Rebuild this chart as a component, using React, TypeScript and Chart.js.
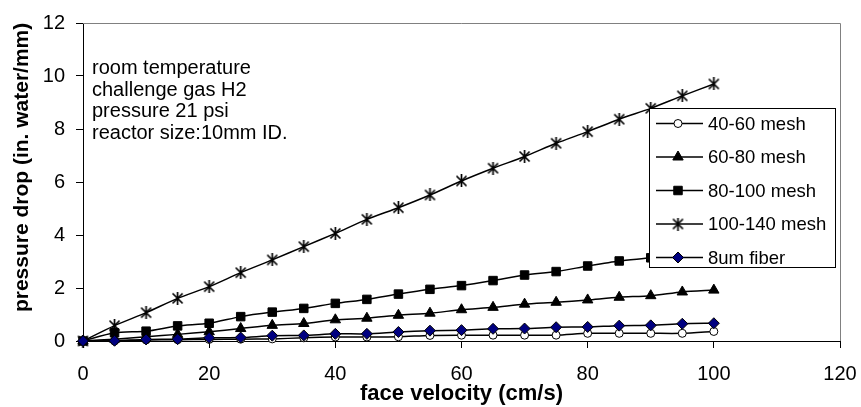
import React, { useEffect, useRef } from 'react';
import { Chart, registerables } from 'chart.js';

Chart.register(...registerables);

const velocities = [0, 5, 10, 15, 20, 25, 30, 35, 40, 45, 50, 55, 60, 65, 70, 75, 80, 85, 90, 95, 100];
const mesh40to60 = [0, 0.0, 0.04, 0.05, 0.06, 0.07, 0.08, 0.12, 0.15, 0.15, 0.16, 0.21, 0.22, 0.22, 0.22, 0.22, 0.29, 0.29, 0.29, 0.29, 0.36];
const mesh60to80 = [0, 0.07, 0.16, 0.25, 0.35, 0.47, 0.59, 0.66, 0.8, 0.86, 0.97, 1.05, 1.18, 1.27, 1.39, 1.46, 1.55, 1.65, 1.71, 1.85, 1.92];
const mesh80to100 = [0, 0.31, 0.37, 0.57, 0.67, 0.92, 1.09, 1.23, 1.42, 1.57, 1.77, 1.95, 2.09, 2.28, 2.49, 2.62, 2.83, 3.02, 3.14, 3.3, 3.45];
const mesh100to140 = [0, 0.58, 1.07, 1.61, 2.05, 2.58, 3.06, 3.56, 4.06, 4.59, 5.03, 5.51, 6.04, 6.52, 6.96, 7.46, 7.9, 8.37, 8.78, 9.25, 9.7];
const fiber8um = [0, 0.01, 0.06, 0.07, 0.12, 0.13, 0.2, 0.21, 0.27, 0.27, 0.34, 0.39, 0.41, 0.46, 0.47, 0.52, 0.53, 0.58, 0.59, 0.65, 0.67];

const seriesNames = ['40-60 mesh', '60-80 mesh', '80-100 mesh', '100-140 mesh', '8um fiber'];
const seriesValues = [mesh40to60, mesh60to80, mesh80to100, mesh100to140, fiber8um];
const seriesMarkers = ['circle', 'triangle', 'rect', 'star', 'rectRot'];

const notes = ['room temperature', 'challenge gas H2', 'pressure 21 psi', 'reactor size:10mm ID.'];

const xTitle = 'face velocity (cm/s)';
const yTitle = 'pressure drop (in. water/mm)';

const FONT = '"Liberation Sans", Arial, Helvetica, sans-serif';
const NAVY = '#000080';

function makeStar(): HTMLCanvasElement {
  const c = document.createElement('canvas');
  c.width = 13;
  c.height = 13;
  const g = c.getContext('2d')!;
  g.strokeStyle = '#000';
  g.lineWidth = 1.7;
  g.beginPath();
  g.moveTo(1.5, 1.5); g.lineTo(11.5, 11.5);
  g.moveTo(11.5, 1.5); g.lineTo(1.5, 11.5);
  g.moveTo(6.5, 0); g.lineTo(6.5, 13);
  g.stroke();
  return c;
}

function drawMarker(ctx: CanvasRenderingContext2D, style: string, x: number, y: number, star: HTMLCanvasElement) {
  ctx.save();
  ctx.lineWidth = 1;
  ctx.strokeStyle = '#000';
  ctx.beginPath();
  if (style === 'circle') {
    ctx.fillStyle = '#fff';
    ctx.arc(x, y, 4, 0, Math.PI * 2);
    ctx.fill();
    ctx.stroke();
  } else if (style === 'triangle') {
    const r = 6;
    ctx.fillStyle = '#000';
    ctx.moveTo(x, y - r);
    ctx.lineTo(x + 0.866 * r, y + 0.5 * r);
    ctx.lineTo(x - 0.866 * r, y + 0.5 * r);
    ctx.closePath();
    ctx.fill();
    ctx.stroke();
  } else if (style === 'rect') {
    const s = 6 * Math.SQRT1_2;
    ctx.fillStyle = '#000';
    ctx.rect(x - s, y - s, 2 * s, 2 * s);
    ctx.fill();
    ctx.stroke();
  } else if (style === 'rectRot') {
    const r = 5.5;
    ctx.fillStyle = NAVY;
    ctx.moveTo(x - r, y);
    ctx.lineTo(x, y - r);
    ctx.lineTo(x + r, y);
    ctx.lineTo(x, y + r);
    ctx.closePath();
    ctx.fill();
    ctx.stroke();
  } else if (style === 'star') {
    ctx.drawImage(star, x - star.width / 2, y - star.height / 2);
  }
  ctx.restore();
}

export default function App() {
  const ref = useRef<HTMLCanvasElement | null>(null);

  useEffect(() => {
    const canvas = ref.current;
    if (!canvas) return;
    const star = makeStar();

    const overlay = {
      id: 'overlay',
      beforeDatasetsDraw(chart: any) {
        const { ctx, chartArea: a } = chart;
        ctx.save();
        ctx.strokeStyle = '#808080';
        ctx.lineWidth = 1;
        ctx.beginPath();
        ctx.moveTo(a.left, a.top + 0.5);
        ctx.lineTo(a.right + 0.5, a.top + 0.5);
        ctx.lineTo(a.right + 0.5, a.bottom);
        ctx.stroke();
        ctx.restore();
      },
      afterDatasetsDraw(chart: any) {
        const { ctx, chartArea: a } = chart;
        ctx.save();
        ctx.fillStyle = '#000';
        ctx.font = `20px ${FONT}`;
        ctx.textAlign = 'left';
        ctx.textBaseline = 'alphabetic';
        notes.forEach((t, i) => ctx.fillText(t, a.left + 9, a.top + 51 + i * 21.5));

        const lx = a.left + 566;
        const ly = a.top + 85;
        const lw = 186;
        const lh = 159;
        ctx.fillStyle = '#fff';
        ctx.fillRect(lx, ly, lw, lh);
        ctx.strokeStyle = '#000';
        ctx.lineWidth = 1;
        ctx.strokeRect(lx + 0.5, ly + 0.5, lw, lh);

        ctx.font = `18.5px ${FONT}`;
        ctx.textBaseline = 'middle';
        seriesNames.forEach((name, i) => {
          const cy = ly + 15.5 + i * 33.5;
          ctx.beginPath();
          ctx.strokeStyle = '#000';
          ctx.lineWidth = 1.5;
          ctx.moveTo(lx + 7, cy);
          ctx.lineTo(lx + 54, cy);
          ctx.stroke();
          drawMarker(ctx, seriesMarkers[i], lx + 29, cy, star);
          ctx.fillStyle = '#000';
          ctx.fillText(name, lx + 59, cy + 1);
        });
        ctx.restore();
      },
    };

    const datasets = seriesNames.map((name, i) => {
      const m = seriesMarkers[i];
      return {
        label: name,
        data: velocities.map((v, j) => ({ x: v, y: seriesValues[i][j] })),
        borderColor: '#000',
        borderWidth: 1.5,
        tension: 0.25,
        pointStyle: m === 'star' ? star : m,
        pointRadius: m === 'circle' ? 4 : m === 'rectRot' ? 5.5 : 6,
        pointBorderWidth: 1,
        pointBorderColor: '#000',
        pointBackgroundColor: m === 'circle' ? '#fff' : m === 'rectRot' ? NAVY : '#000',
        order: 5 - i,
        clip: false as any,
      };
    });

    const chart = new Chart(canvas, {
      type: 'line',
      data: { datasets },
      plugins: [overlay],
      options: {
        animation: false,
        responsive: false,
        events: [],
        layout: { padding: { top: 23, right: 21, left: 0, bottom: 0 } },
        plugins: { legend: { display: false }, tooltip: { enabled: false } },
        scales: {
          x: {
            type: 'linear',
            min: 0,
            max: 120,
            ticks: { stepSize: 20, color: '#000', font: { family: FONT, size: 20 }, padding: 14 },
            grid: { drawOnChartArea: false, drawTicks: true, tickLength: 7, color: '#000' },
            border: { color: '#000', width: 1 },
            title: {
              display: true,
              text: xTitle,
              color: '#000',
              font: { family: FONT, size: 22, weight: 'bold', lineHeight: 1.2 },
              padding: { top: 0, bottom: 0 },
            },
            afterFit(scale: any) {
              scale.height = 66;
              scale.paddingLeft = 0;
              scale.paddingRight = 0;
            },
          },
          y: {
            type: 'linear',
            min: 0,
            max: 12,
            ticks: { stepSize: 2, color: '#000', font: { family: FONT, size: 20 }, padding: 11 },
            grid: { drawOnChartArea: false, drawTicks: true, tickLength: 7, color: '#000' },
            border: { color: '#000', width: 1 },
            title: {
              display: true,
              text: '     ' + yTitle,
              color: '#000',
              font: { family: FONT, size: 21, weight: 'bold', lineHeight: 1.2 },
              padding: { top: 10, bottom: 0 },
            },
            afterFit(scale: any) {
              scale.width = 83;
              scale.paddingTop = 0;
              scale.paddingBottom = 0;
            },
          },
        },
      },
    });
    return () => chart.destroy();
  }, []);

  return (
    <div style={{ position: 'absolute', left: 0, top: 0, width: 861, height: 407, background: '#fff' }}>
      <canvas ref={ref} width={861} height={407} style={{ display: 'block' }} />
    </div>
  );
}
